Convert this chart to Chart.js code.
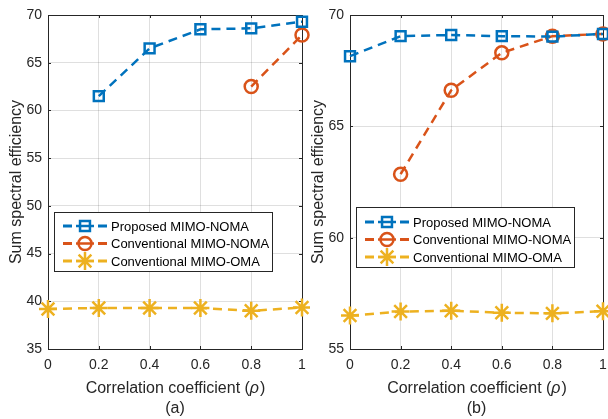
<!DOCTYPE html>
<html>
<head>
<meta charset="utf-8">
<script src="https://cdn.jsdelivr.net/npm/chart.js@4.4.0/dist/chart.umd.min.js"></script>
<style>
  html, body { margin: 0; padding: 0; background: #fff; }
  #wrap { position: relative; width: 608px; height: 419px; overflow: hidden; }
  canvas { position: absolute; top: 0; }
  #chartA { left: 0; }
  #chartB { left: 300px; }
</style>
</head>
<body>
<div id="wrap">
  <canvas id="chartA" width="310" height="419"></canvas>
  <canvas id="chartB" width="308" height="419"></canvas>
</div>
<script>
// correlation coefficient values on the x axis
const rhoLabels = ["0", "0.2", "0.4", "0.6", "0.8", "1"];

// panel (a)
const proposedA = [null, 61.5, 66.5, 68.5, 68.6, 69.3];
const convNomaA = [null, null, null, null, 62.5, 67.9];
const convOmaA = [39.2, 39.3, 39.3, 39.3, 39.0, 39.35];
const yTicksA = [35, 40, 45, 50, 55, 60, 65, 70];

// panel (b)
const proposedB = [68.15, 69.05, 69.1, 69.05, 69.03, 69.15];
const convNomaB = [null, 62.85, 66.62, 68.3, 69.05, 69.15];
const convOmaB = [56.5, 56.68, 56.72, 56.63, 56.6, 56.7];
const yTicksB = [55, 60, 65, 70];

const seriesNames = ["Proposed MIMO-NOMA", "Conventional MIMO-NOMA", "Conventional MIMO-OMA"];

const BLUE = "#0072BD";
const RED = "#D95319";
const YELLOW = "#EDB120";
const AXIS = "#262626";
const FONT = "'Liberation Sans', Arial, Helvetica, sans-serif";

function makeDataset(label, data, color, style, radius) {
  return {
    label: label,
    data: data,
    borderColor: color,
    borderWidth: 2.5,
    borderDash: [9, 6],
    pointStyle: style,
    pointRadius: radius,
    pointHoverRadius: radius,
    pointBorderColor: color,
    pointBorderWidth: 2.5,
    pointBackgroundColor: "rgba(0,0,0,0)",
    fill: false,
    tension: 0,
    spanGaps: false,
    clip: false,
  };
}

// small marker painter for the legend samples
function drawMarker(ctx, style, x, y, r) {
  ctx.beginPath();
  if (style === "rect") {
    const s = Math.SQRT1_2 * r;
    ctx.rect(x - s, y - s, 2 * s, 2 * s);
  } else if (style === "circle") {
    ctx.arc(x, y, r, 0, Math.PI * 2);
  } else if (style === "star") {
    for (let k = 0; k < 4; k++) {
      const a = (k * Math.PI) / 4;
      ctx.moveTo(x - Math.cos(a) * r, y - Math.sin(a) * r);
      ctx.lineTo(x + Math.cos(a) * r, y + Math.sin(a) * r);
    }
  }
  ctx.stroke();
}

// box, inner ticks, axis titles and the legend
const framePlugin = {
  id: "frame",
  beforeDatasetsDraw(chart) {
    const { ctx, chartArea: a } = chart;
    const xs = chart.scales.x;
    const ys = chart.scales.y;
    ctx.save();
    ctx.strokeStyle = AXIS;
    ctx.lineWidth = 1;
    ctx.strokeRect(a.left + 0.5, a.top + 0.5, a.right - a.left, a.bottom - a.top);
    ctx.beginPath();
    xs.ticks.forEach((t, i) => {
      const px = Math.round(xs.getPixelForTick(i)) + 0.5;
      ctx.moveTo(px, a.bottom);
      ctx.lineTo(px, a.bottom - 3);
      ctx.moveTo(px, a.top);
      ctx.lineTo(px, a.top + 3);
    });
    ys.ticks.forEach((t) => {
      const py = Math.round(ys.getPixelForValue(t.value)) + 0.5;
      ctx.moveTo(a.left, py);
      ctx.lineTo(a.left + 3, py);
      ctx.moveTo(a.right, py);
      ctx.lineTo(a.right - 3, py);
    });
    ctx.stroke();
    ctx.restore();
  },
  afterDraw(chart, args, opts) {
    const { ctx, chartArea: a } = chart;
    ctx.save();
    ctx.fillStyle = AXIS;

    // x title with italic rho
    const cx = (a.left + a.right) / 2;
    const normal = "16px " + FONT;
    const italic = "italic 16px " + FONT;
    ctx.font = normal;
    const p1 = "Correlation coefficient (";
    const p3 = ")";
    const w1 = ctx.measureText(p1).width;
    const w3 = ctx.measureText(p3).width;
    ctx.font = italic;
    const w2 = ctx.measureText("ρ").width;
    let x0 = cx - (w1 + w2 + w3) / 2;
    ctx.textBaseline = "alphabetic";
    ctx.textAlign = "left";
    ctx.font = normal;
    ctx.fillText(p1, x0, 393);
    ctx.font = italic;
    ctx.fillText("ρ", x0 + w1, 393);
    ctx.font = normal;
    ctx.fillText(p3, x0 + w1 + w2 + 1, 393);

    // panel caption
    ctx.textAlign = "center";
    ctx.fillText(opts.caption, cx, 413);

    // y title
    ctx.save();
    ctx.translate(a.left - 31, (a.top + a.bottom) / 2);
    ctx.rotate(-Math.PI / 2);
    ctx.textAlign = "center";
    ctx.textBaseline = "middle";
    ctx.fillText("Sum spectral efficiency", 0, 0);
    ctx.restore();

    // legend: short dash, marker, short dash, then the label
    const lg = opts.legend;
    const bx = a.left + 6;
    ctx.fillStyle = "#fff";
    ctx.fillRect(bx, lg.top, lg.width, lg.height);
    ctx.strokeStyle = AXIS;
    ctx.lineWidth = 1;
    ctx.strokeRect(bx + 0.5, lg.top + 0.5, lg.width, lg.height);
    chart.data.datasets.forEach((ds, i) => {
      const ry = lg.top + lg.first + i * 17.5;
      const lx0 = bx + 9;
      const lx1 = bx + 53;
      ctx.strokeStyle = ds.borderColor;
      ctx.lineWidth = ds.borderWidth + 0.5;
      ctx.setLineDash([9, 26]);
      ctx.lineDashOffset = 0;
      ctx.beginPath();
      ctx.moveTo(lx0, ry);
      ctx.lineTo(lx1, ry);
      ctx.stroke();
      ctx.setLineDash([]);
      ctx.lineWidth = ds.borderWidth;
      ctx.beginPath();
      ctx.moveTo(lx0 + 13, ry);
      ctx.lineTo(lx1 - 13, ry);
      ctx.stroke();
      drawMarker(ctx, ds.pointStyle, (lx0 + lx1) / 2, ry, ds.pointRadius);
      ctx.fillStyle = "#000";
      ctx.font = "13px " + FONT;
      ctx.textAlign = "left";
      ctx.textBaseline = "middle";
      ctx.fillText(ds.label, bx + 57, ry + 1);
    });
    ctx.restore();
  },
};

function buildChart(id, series, yTicks, caption, legend, padRight, axisWidth) {
  return new Chart(document.getElementById(id), {
    type: "line",
    data: {
      labels: rhoLabels,
      datasets: [
        makeDataset(seriesNames[0], series[0], BLUE, "rect", 7),
        makeDataset(seriesNames[1], series[1], RED, "circle", 6.5),
        makeDataset(seriesNames[2], series[2], YELLOW, "star", 9),
      ],
    },
    options: {
      responsive: false,
      animation: false,
      layout: {
        autoPadding: false,
        padding: { left: 0, top: 15, right: padRight, bottom: 0 },
      },
      scales: {
        x: {
          type: "category",
          offset: false,
          grid: { color: "rgba(38,38,38,0.15)", lineWidth: 1, drawTicks: false },
          border: { display: false },
          ticks: { color: AXIS, font: { family: FONT, size: 14 }, padding: 8, maxRotation: 0 },
          afterFit: (s) => {
            s.height = 70;
            s.paddingLeft = 0;
            s.paddingRight = 0;
          },
        },
        y: {
          min: yTicks[0],
          max: yTicks[yTicks.length - 1],
          afterBuildTicks: (s) => { s.ticks = yTicks.map((v) => ({ value: v })); },
          grid: { color: "rgba(38,38,38,0.15)", lineWidth: 1, drawTicks: false },
          border: { display: false },
          ticks: { color: AXIS, font: { family: FONT, size: 14 }, padding: 6 },
          afterFit: (s) => {
            s.width = axisWidth;
            s.paddingTop = 0;
            s.paddingBottom = 0;
          },
        },
      },
      plugins: {
        legend: { display: false },
        tooltip: { enabled: false },
        frame: { caption: caption, legend: legend },
      },
    },
    plugins: [framePlugin],
  });
}

buildChart("chartA", [proposedA, convNomaA, convOmaA], yTicksA, "(a)",
  { top: 212, width: 218, height: 59, first: 14 }, 8, 48);
buildChart("chartB", [proposedB, convNomaB, convOmaB], yTicksB, "(b)",
  { top: 207, width: 218, height: 60, first: 15 }, 5, 50);
</script>
</body>
</html>
